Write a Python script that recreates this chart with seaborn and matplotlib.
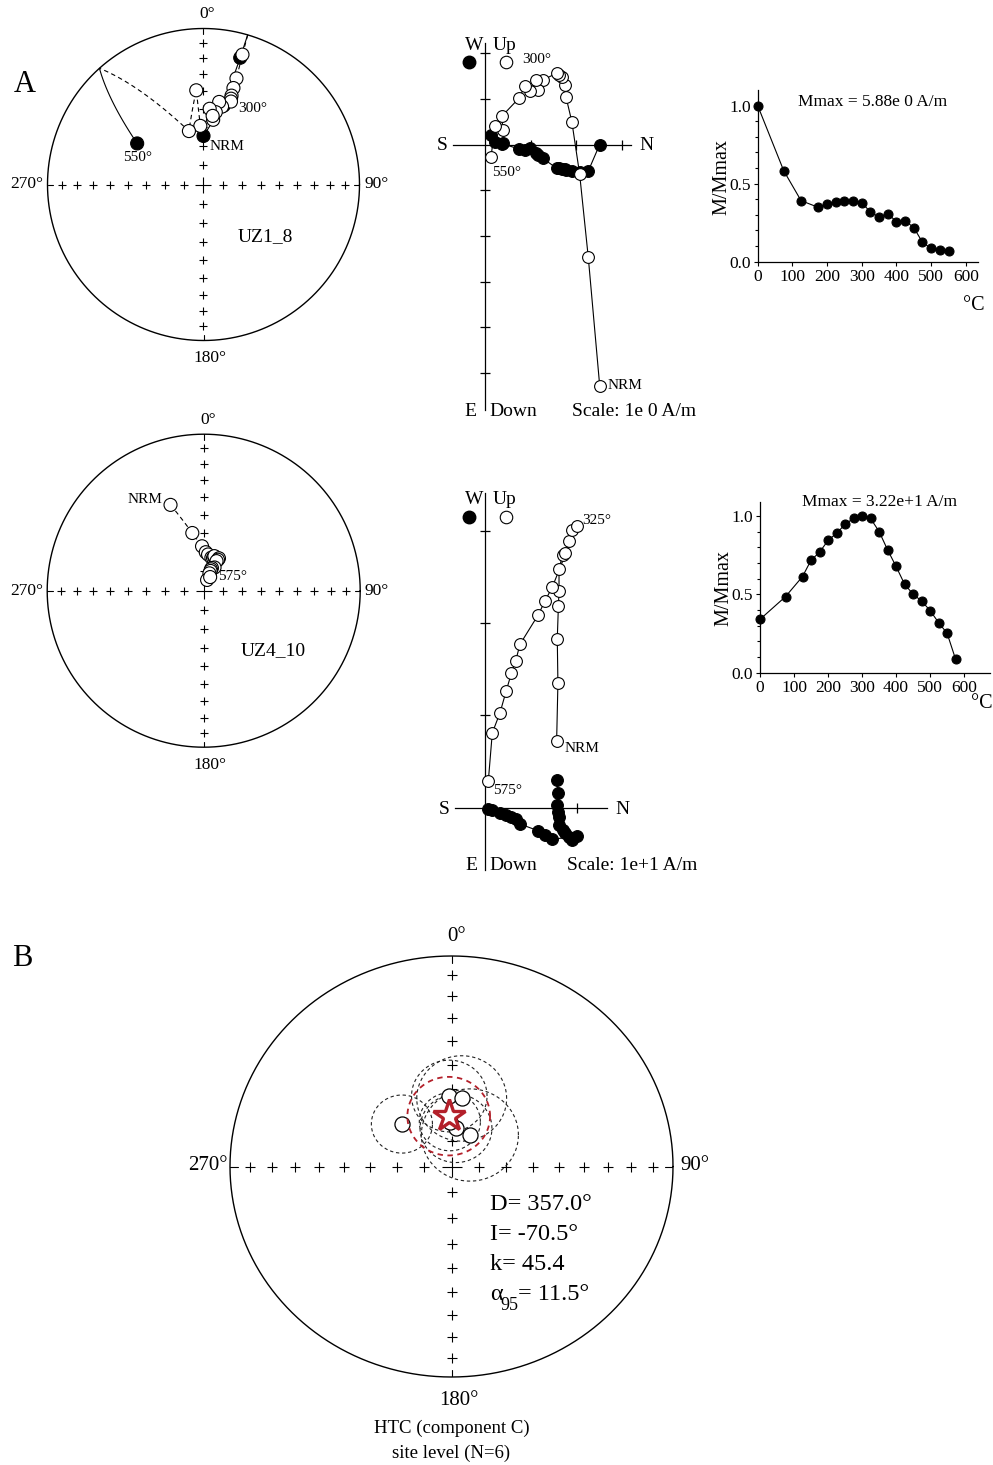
import numpy as np
import matplotlib
matplotlib.use("Agg")
import matplotlib.pyplot as plt
import seaborn as sns

sns.set_style("ticks")
plt.rcParams["font.family"] = ["Liberation Serif", "DejaVu Serif"]
plt.rcParams.update({"axes.edgecolor": "black", "xtick.color": "black",
                     "ytick.color": "black", "text.color": "black",
                     "axes.labelcolor": "black"})

# ---------------------------------------------------------------------------
# Specimen UZ1_8: stepwise thermal demagnetisation, vector components in A/m
uz1_temp = [0, 75, 125, 175, 200, 225, 250, 275, 300, 325, 350, 375, 400, 425,
            450, 475, 500, 525, 550]
uz1_north = [2.51, 2.26, 2.07, 1.90, 1.77, 1.74, 1.68, 1.62, 1.57, 1.26, 1.16,
             1.12, 0.98, 0.87, 0.75, 0.37, 0.39, 0.22, 0.13]
uz1_east = [0.00, 0.58, 0.60, 0.57, 0.55, 0.54, 0.53, 0.52, 0.52, 0.30, 0.22,
            0.19, 0.08, 0.13, 0.10, -0.02, -0.03, -0.06, -0.21]
uz1_down = [5.28, 2.47, 0.64, -0.50, -1.05, -1.30, -1.48, -1.52, -1.56, -1.41,
            -1.19, -1.41, -1.16, -1.28, -1.02, -0.62, -0.32, -0.41, 0.28]
uz1_mnorm = [1.0, 0.583, 0.391, 0.348, 0.368, 0.380, 0.391, 0.391, 0.378,
             0.318, 0.286, 0.308, 0.256, 0.263, 0.218, 0.124, 0.085, 0.075,
             0.068]
uz1_mmax = "5.88e 0"

# Specimen UZ4_10
uz4_temp = [0, 75, 125, 150, 175, 200, 225, 250, 275, 300, 325, 350, 375, 400,
            425, 450, 475, 500, 525, 550, 575]
uz4_north = [7.76, 7.90, 7.83, 7.95, 8.02, 8.02, 8.42, 8.67, 9.13, 9.39, 9.93,
             7.29, 6.50, 5.77, 3.79, 3.32, 2.87, 2.28, 1.63, 0.79, 0.36]
uz4_east = [-3.00, -1.56, -0.29, 0.43, 0.97, 1.87, 2.40, 2.78, 3.14, 3.50,
            3.07, 3.43, 3.00, 2.50, 1.77, 1.20, 0.97, 0.79, 0.54, 0.25, 0.17]
uz4_down = [-7.2, -13.5, -18.3, -21.8, -23.5, -25.9, -27.4, -27.6, -28.9,
            -30.1, -30.5, -23.9, -22.4, -20.9, -17.7, -15.9, -14.6, -12.6,
            -10.3, -8.1, -2.9]
uz4_mnorm = [0.34, 0.485, 0.613, 0.717, 0.768, 0.843, 0.889, 0.945, 0.985,
             1.0, 0.983, 0.90, 0.783, 0.677, 0.564, 0.50, 0.457, 0.396, 0.319,
             0.251, 0.085]
uz4_mmax = "3.22e+1"

# HTC (component C) site means
site_dec = [358.3, 8.1, 312.0, 6.4, 29.0, 358.0]
site_inc = [-62.6, -63.3, -65.4, -75.2, -76.1, -72.7]
site_a95 = [10.5, 12.5, 8.5, 10.0, 13.5, 8.5]
mean_dec, mean_inc, mean_k, mean_a95 = 357.0, -70.5, 45.4, 11.5
n_sites = 6

# ---------------------------------------------------------------------------
W, H = 993, 1465
fig = plt.figure(figsize=(W / 100, H / 100), dpi=100)
RED = "#b3202a"
CONE = 0.93          # projected cone radius per radian of alpha95


def label(x, y, s, size, ha="center", va="center", **kw):
    fig.text(x / W, 1 - y / H, s, fontsize=size, ha=ha, va=va, **kw)


def axes_px(left, top, right, bottom):
    ax = fig.add_axes([left / W, 1 - bottom / H, (right - left) / W,
                       (bottom - top) / H])
    ax.patch.set_alpha(0)
    return ax


def dir2cart(dec, inc):
    d, i = np.radians(dec), np.radians(inc)
    return np.vstack([np.cos(i) * np.cos(d), np.cos(i) * np.sin(d), np.sin(i)])


def unit(n, e, d):
    v = np.vstack([n, e, d]).astype(float)
    return v / np.linalg.norm(v, axis=0)


def project(v):
    """Equal-area projection (lower and upper hemisphere folded together)."""
    s = np.sqrt(1 + np.abs(v[2]))
    return v[1] / s, v[0] / s


def stereo_frame(ax, small, big):
    ax.set_xlim(-1, 1)
    ax.set_ylim(-1, 1)
    ax.axis("off")
    t = np.linspace(0, 2 * np.pi, 721)
    ax.plot(np.cos(t), np.sin(t), color="k", lw=1.0, clip_on=False)
    r = np.sqrt(1 - np.sin(np.radians(np.arange(10, 90, 10))))
    z = np.zeros_like(r)
    ax.plot(np.concatenate([r, -r, z, z]), np.concatenate([z, z, r, -r]), "+",
            color="k", ms=small, mew=0.8, zorder=1)
    ax.plot([0], [0], "+", color="k", ms=big, mew=0.8, zorder=1)
    for a in np.radians([0, 90, 180, 270]):
        ax.plot([0.965 * np.sin(a), np.sin(a)], [0.965 * np.cos(a), np.cos(a)],
                color="k", lw=0.8)


def great_circle_path(ax, v):
    pts = [v[:, 0]]
    for a, b in zip(v.T[:-1], v.T[1:]):
        om = np.arccos(np.clip(a @ b, -1, 1))
        t = np.linspace(0, 1, 41)[1:]
        if om < 1e-6:
            seg = np.outer(1 - t, a) + np.outer(t, b)
        else:
            seg = (np.outer(np.sin((1 - t) * om), a)
                   + np.outer(np.sin(t * om), b)) / np.sin(om)
        pts.extend(seg)
    runs, cur = [], [pts[0]]
    lower = pts[0][2] >= 0
    for p in pts[1:]:
        if (p[2] >= 0) != lower:
            q = cur[-1]
            f = q[2] / (q[2] - p[2])
            c = q + f * (p - q)
            c[2] = 0
            c /= np.linalg.norm(c)
            cur.append(c)
            runs.append((lower, np.array(cur)))
            cur, lower = [c, p], not lower
        else:
            cur.append(p)
    runs.append((lower, np.array(cur)))
    for low, r in runs:
        x, y = project(r.T)
        ax.plot(x, y, color="k", lw=0.8, ls="-" if low else (0, (4, 3)),
                zorder=2)


def specimen_stereo(cx, cy, R, n, e, d):
    ax = axes_px(cx - R, cy - R, cx + R, cy + R)
    stereo_frame(ax, small=5.3, big=12)
    v = unit(n, e, d)
    great_circle_path(ax, v)
    x, y = project(v)
    hemi = np.where(v[2] >= 0, "down", "up")
    sns.scatterplot(x=x, y=y, hue=hemi, palette={"down": "black", "up": "white"},
                    edgecolor="black", linewidth=0.8, s=88, legend=False,
                    ax=ax, zorder=3)
    ax.set_xlim(-1, 1)
    ax.set_ylim(-1, 1)
    ax.set_xlabel("")
    ax.set_ylabel("")
    return ax, x, y


def stereo_labels(cx, cy, size):
    label(cx + 4, cy - 171, "0°", size)
    label(cx + 6.5, cy + 174, "180°", size)
    label(cx - 177, cy, "270°", size)
    label(cx + 173, cy, "90°", size)


def zijderveld(box, origin, scale, n, e, d, xb, yb, xticks, yticks):
    L, T, R, B = box
    ox, oy = origin
    ax = axes_px(L, T, R, B)
    n, e, d = (np.asarray(a, float) for a in (n, e, d))
    ax.plot(n, -e, color="k", lw=0.8, zorder=2)
    ax.plot(n, -d, color="k", lw=0.8, zorder=2)
    sns.scatterplot(x=n, y=-e, color="black", edgecolor="black", s=72,
                    linewidth=0.8, ax=ax, zorder=3, clip_on=False)
    sns.scatterplot(x=n, y=-d, color="white", edgecolor="black", s=72,
                    linewidth=0.8, ax=ax, zorder=4, clip_on=False)
    ax.set_xlim((L - ox) / scale, (R - ox) / scale)
    ax.set_ylim((oy - B) / scale, (oy - T) / scale)
    for side in ("top", "right"):
        ax.spines[side].set_visible(False)
    ax.spines["left"].set_position(("data", 0))
    ax.spines["bottom"].set_position(("data", 0))
    ax.spines["bottom"].set_bounds((xb[0] - ox) / scale, (xb[1] - ox) / scale)
    ax.spines["left"].set_bounds((oy - yb[1]) / scale, (oy - yb[0]) / scale)
    for s in ("left", "bottom"):
        ax.spines[s].set_linewidth(0.9)
    ax.set_xticks(xticks)
    ax.set_yticks(yticks)
    ax.tick_params(direction="inout", length=7.5, width=0.9,
                   labelbottom=False, labelleft=False, bottom=True, left=True)
    ax.set_xlabel("")
    ax.set_ylabel("")
    return ax


def zij_key(ox, top):
    label(ox - 11, top, "W", 14)
    label(ox + 20, top, "Up", 14)
    fig.lines.append(plt.Line2D([(ox - 16) / W], [1 - (top + 17) / H],
                                transform=fig.transFigure, marker="o",
                                ms=9, mfc="black", mec="black", ls=""))
    fig.lines.append(plt.Line2D([(ox + 21) / W], [1 - (top + 17) / H],
                                transform=fig.transFigure, marker="o",
                                ms=9, mfc="white", mec="black", mew=0.8, ls=""))


def intensity(box, temp, m, xmax, ymax, mmax, mmax_y):
    L, T, R, B = box
    ax = axes_px(L, T, R, B)
    sns.lineplot(x=temp, y=m, ax=ax, color="k", lw=0.8, marker="o",
                 markersize=6.5, markeredgecolor="k", clip_on=False)
    ax.set_xlim(0, xmax)
    ax.set_ylim(0, ymax)
    sns.despine(ax=ax)
    ax.spines["left"].set_linewidth(0.9)
    ax.spines["bottom"].set_linewidth(0.9)
    ax.set_xticks(range(0, 700, 100))
    ax.set_yticks([0, 0.5, 1.0])
    ax.set_yticklabels(["0.0", "0.5", "1.0"])
    ax.set_yticks(np.arange(0.1, 1.05, 0.1), minor=True)
    ax.tick_params(which="major", direction="out", length=3, width=0.8,
                   labelsize=12.5, pad=2, left=True, bottom=True)
    ax.tick_params(axis="y", which="minor", direction="out", length=2.5,
                   width=0.8, left=True)
    ax.tick_params(axis="x", which="minor", bottom=False)
    ax.set_xlabel("")
    ax.set_ylabel("")
    label((L + R) / 2 + 5, mmax_y, f"Mmax = {mmax} A/m", 12.5)
    label(L - 36, (T + B) / 2 + 1, "M/Mmax", 14.5, rotation=90)
    return ax


# ------------------------------- panel A -----------------------------------
label(25, 84, "A", 22)

# UZ1_8 stereonet
ax1, x1, y1 = specimen_stereo(203.5, 184.5, 156, uz1_north, uz1_east, uz1_down)
stereo_labels(203.5, 184.5, 12.5)
label(265, 237, "UZ1_8", 14)
ax1.annotate("NRM", (x1[0], y1[0]), xytext=(6, -11), textcoords="offset pixels",
             ha="left", va="center", fontsize=11)
ax1.annotate("550°", (x1[-1], y1[-1]), xytext=(0, -14), textcoords="offset pixels",
             ha="center", va="center", fontsize=11)
ax1.annotate("300°", (x1[8], y1[8]), xytext=(22, -7), textcoords="offset pixels",
             ha="center", va="center", fontsize=11)

# UZ1_8 vector end-point diagram (tick = 1 A/m)
zx1 = zijderveld((440, 30, 660, 425), (485, 144.5), 45.7,
                 uz1_north, uz1_east, uz1_down, (453, 631), (43, 410),
                 [1, 2, 3], [-5, -4, -3, -2, -1, 1, 2])
zij_key(485, 45)
label(442, 146, "S", 14)
label(646, 146, "N", 14)
label(470, 412, "E", 14)
label(513, 412, "Down", 14)
label(634, 412, "Scale: 1e 0 A/m", 14)
zx1.annotate("300°", (uz1_north[8], -uz1_down[8]), xytext=(-20, 14),
             textcoords="offset pixels", ha="center", va="center", fontsize=11,
             arrowprops=dict(arrowstyle="-", lw=0.6, color="k",
                             shrinkA=2, shrinkB=5))
zx1.annotate("550°", (uz1_north[-1], -uz1_down[-1]), xytext=(1, -15),
             textcoords="offset pixels", ha="left", va="center", fontsize=11)
zx1.annotate("NRM", (uz1_north[0], -uz1_down[0]), xytext=(8, 0),
             textcoords="offset pixels", ha="left", va="center", fontsize=11)

# UZ1_8 intensity decay
intensity((757.7, 90, 978, 261.7), uz1_temp, uz1_mnorm, 635, 1.10, uz1_mmax,
          101.7)
label(974, 306, "°C", 14.5)

# UZ4_10 stereonet
ax2, x2, y2 = specimen_stereo(203.7, 590.7, 156.5, uz4_north, uz4_east, uz4_down)
stereo_labels(203.7, 590.7, 12.5)
label(273, 651, "UZ4_10", 14)
ax2.annotate("NRM", (x2[0], y2[0]), xytext=(-8, 5), textcoords="offset pixels",
             ha="right", va="center", fontsize=11)
ax2.annotate("575°", (x2[-1], y2[-1]), xytext=(8, 1), textcoords="offset pixels",
             ha="left", va="center", fontsize=11)

# UZ4_10 vector end-point diagram (tick = 10 A/m)
zx2 = zijderveld((440, 480, 660, 880), (485, 807.7), 9.23,
                 uz4_north, uz4_east, uz4_down, (455, 607), (493, 870),
                 [10], [10, 20, 30])
zij_key(485, 500)
label(444, 809, "S", 14)
label(622, 809, "N", 14)
label(471, 866, "E", 14)
label(513, 866, "Down", 14)
label(632, 866, "Scale: 1e+1 A/m", 14)
zx2.annotate("325°", (uz4_north[10], -uz4_down[10]), xytext=(6, 6),
             textcoords="offset pixels", ha="left", va="center", fontsize=11)
zx2.annotate("NRM", (uz4_north[0], -uz4_down[0]), xytext=(8, -7),
             textcoords="offset pixels", ha="left", va="center", fontsize=11)
zx2.annotate("575°", (uz4_north[-1], -uz4_down[-1]), xytext=(5, -10),
             textcoords="offset pixels", ha="left", va="center", fontsize=11)

# UZ4_10 intensity decay
intensity((760, 501.7, 990, 672.7), uz4_temp, uz4_mnorm, 676, 1.09, uz4_mmax,
          502)
label(982, 703, "°C", 14.5)

# ------------------------------- panel B -----------------------------------
label(22, 958, "B", 22)
cx, cy, rx, ry = 451.5, 1166.5, 221.5, 210.5
ax3 = axes_px(cx - rx, cy - ry, cx + rx, cy + ry)
stereo_frame(ax3, small=7, big=15)
t = np.linspace(0, 2 * np.pi, 361)
sx, sy = project(dir2cart(np.array(site_dec), np.array(site_inc)))
for px, py, a in zip(sx, sy, site_a95):
    c = np.radians(a) * CONE
    ax3.plot(px + c * np.cos(t), py + c * np.sin(t), color="#222222", lw=0.8,
             ls=(0, (3, 2.5)), zorder=2)
sns.scatterplot(x=sx, y=sy, color="white", edgecolor="black", linewidth=0.9,
                s=118, ax=ax3, zorder=3)
mx, my = project(dir2cart(np.array([mean_dec]), np.array([mean_inc])))
c = np.radians(mean_a95) * CONE
ax3.plot(mx[0] + c * np.cos(t), my[0] + c * np.sin(t), color=RED, lw=1.3,
         ls=(0, (3, 2.5)), zorder=4)
ax3.plot(mx, my, marker="*", ms=24, mfc="white", mec=RED, mew=2.4, ls="",
         zorder=5)
ax3.set_xlim(-1, 1)
ax3.set_ylim(-1, 1)
ax3.set_xlabel("")
ax3.set_ylabel("")

label(cx + 5, cy - 230, "0°", 15)
label(cx + 7, cy + 234, "180°", 15)
label(cx - 244, cy - 1, "270°", 15)
label(cx + 243, cy - 1, "90°", 15)
label(cx, 1428, "HTC (component C)", 13.5)
label(cx, 1453, f"site level (N={n_sites})", 13.5)

label(490, 1205, f"D= {mean_dec:.1f}°", 17.5, ha="left")
label(490, 1234, f"I= {mean_inc:.1f}°", 17.5, ha="left")
label(490, 1264, f"k= {mean_k:.1f}", 17.5, ha="left")
label(490, 1294, "α", 17.5, ha="left")
label(500, 1306, "95", 13, ha="left")
label(518, 1294, f"= {mean_a95:.1f}°", 17.5, ha="left")

fig.savefig("out.png", dpi=100)
